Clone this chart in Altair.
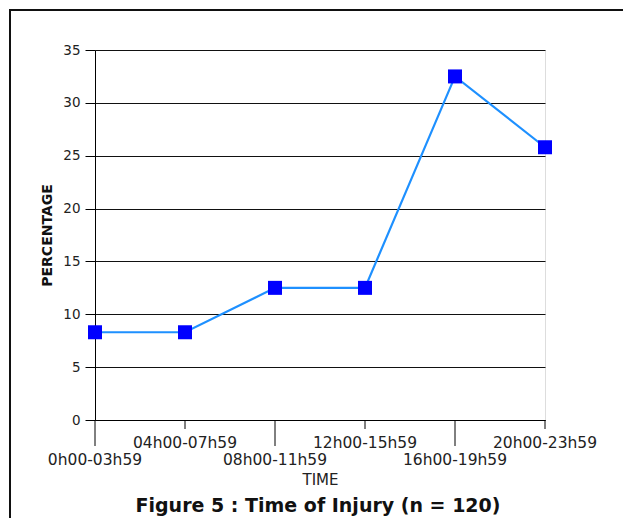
import altair as alt
import pandas as pd

categories = ["0h00-03h59", "04h00-07h59", "08h00-11h59",
              "12h00-15h59", "16h00-19h59", "20h00-23h59"]
percentages = [8.3, 8.3, 12.5, 12.5, 32.5, 25.8]
y_ticks = [0, 5, 10, 15, 20, 25, 30, 35]
fig_title = "Figure 5 : Time of Injury (n = 120)"

df = pd.DataFrame({"time": categories, "pct": percentages})

W, H = 450, 370
FONT = "DejaVu Sans"

xscale = alt.Scale(type="point", domain=categories, padding=0)
yscale = alt.Scale(domain=[0, 35])

x_axis = alt.Axis(title="TIME", labels=False, ticks=False, grid=False,
                  domain=True, domainColor="#000", domainWidth=1,
                  titlePadding=52, titleFont=FONT, titleFontSize=15,
                  titleFontWeight="normal", titleColor="#222")
y_axis = alt.Axis(title="PERCENTAGE", values=y_ticks, tickSize=10,
                  tickColor="#000", domainColor="#000",
                  labelFont=FONT, labelFontSize=13.5, labelColor="#222",
                  labelPadding=5, grid=True, gridColor="#111",
                  gridWidth=1, gridOpacity=1,
                  titleFont=FONT, titleFontSize=14, titleFontWeight="bold",
                  titleColor="#111", titlePadding=8)

X = alt.X("time:N", scale=xscale, sort=categories, axis=x_axis)
Y = alt.Y("pct:Q", scale=yscale, axis=y_axis)

base = alt.Chart(df)

line = base.mark_line(color="#1E90FF", strokeWidth=2.2).encode(x=X, y=Y)
points = base.mark_square(size=196, color="#0000FF", opacity=1, filled=True).encode(x=X, y=Y)

indexed = base.transform_window(idx="row_number()").transform_calculate(
    lower="(datum.idx - 1) % 2 == 0")

long_ticks = indexed.transform_filter("datum.lower").mark_rule(
    color="#000", strokeWidth=1).encode(x=X, y=alt.value(H), y2=alt.value(H + 26))
short_ticks = indexed.transform_filter("!datum.lower").mark_rule(
    color="#000", strokeWidth=1).encode(x=X, y=alt.value(H), y2=alt.value(H + 9))

upper_labels = indexed.transform_filter("!datum.lower").mark_text(
    font=FONT, fontSize=15.5, baseline="alphabetic", color="#222").encode(
    x=X, y=alt.value(397.5), text="time:N")
lower_labels = indexed.transform_filter("datum.lower").mark_text(
    font=FONT, fontSize=15.5, baseline="alphabetic", color="#222").encode(
    x=X, y=alt.value(414.5), text="time:N")

one_row = alt.Data(values=[{"k": 0}])
frame_top = alt.Chart(one_row).mark_rule(color="#111", strokeWidth=2).encode(
    x=alt.value(-85), x2=alt.value(536), y=alt.value(-40))
frame_left = alt.Chart(one_row).mark_rule(color="#111", strokeWidth=2).encode(
    x=alt.value(-85), y=alt.value(-41), y2=alt.value(476))
title_text = alt.Chart(one_row).mark_text(
    font=FONT, fontSize=19, fontWeight="bold", color="#111",
    align="center", baseline="middle").encode(
    x=alt.value(223), y=alt.value(456), text=alt.value(fig_title))

chart = alt.layer(
    frame_top, frame_left, line, points, long_ticks, short_ticks,
    upper_labels, lower_labels, title_text
).properties(
    width=W, height=H,
    autosize=alt.AutoSizeParams(type="none"),
    padding={"left": 87, "top": 42, "right": 78, "bottom": 98},
).configure_view(stroke="#333", strokeWidth=1.5).configure(background="white")

chart.save("out.html", embed_options={"renderer": "svg", "actions": False})
